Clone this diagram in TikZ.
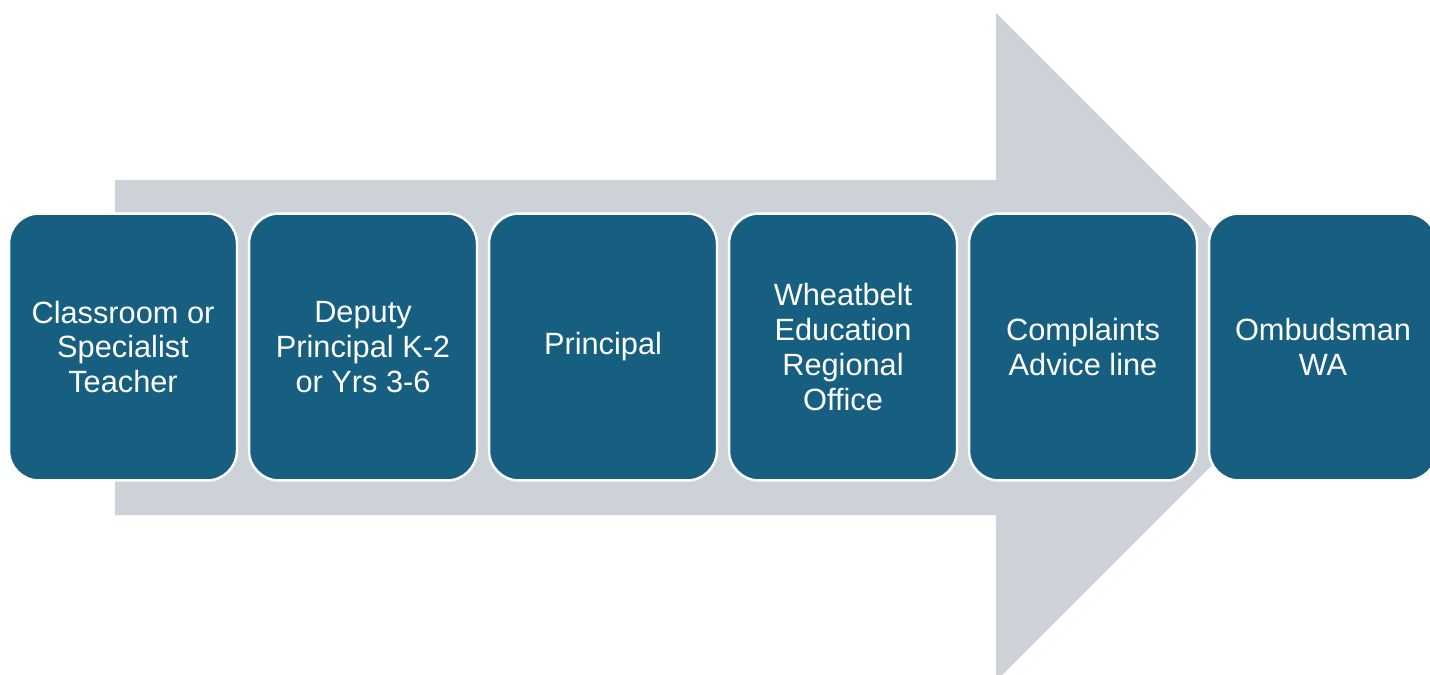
\documentclass[tikz,border=0pt]{standalone}
\usepackage{fontspec}
\setmainfont{Liberation Sans}
\definecolor{stepblue}{HTML}{175F80}
\definecolor{arrowgrey}{HTML}{CDD2D9}
\tikzset{
  stage/.style={rectangle, rounded corners=0.6cm, fill=stepblue, draw=white,
    line width=1.4pt, minimum width=4.56cm, minimum height=5.34cm,
    text=white, align=center, font=\fontsize{17.5}{19.8}\selectfont}
}
\begin{document}
\begin{tikzpicture}[x=0.02cm,y=-0.02cm]
    \useasboundingbox (0,0) rectangle (1430,675);

    % 背景大箭头
    \fill[arrowgrey] (115,180) -- (996,180) -- (996,13) -- (1330,347)
        -- (996,681) -- (996,515) -- (115,515) -- cycle;

    % 各级处理环节
    \node[stage] (teacher)   at (123,347) {Classroom or\\Specialist\\Teacher};
    \node[stage] (deputy)    at (363,347) {Deputy\\Principal K-2\\or Yrs 3-6};
    \node[stage] (principal) at (603,347) {Principal};
    \node[stage] (region)    at (843,347) {Wheatbelt\\Education\\Regional\\Office};
    \node[stage] (advice)    at (1083,347) {Complaints\\Advice line};
    \node[stage] (ombudsman) at (1323,347) {Ombudsman\\WA};

\end{tikzpicture}
\end{document}
